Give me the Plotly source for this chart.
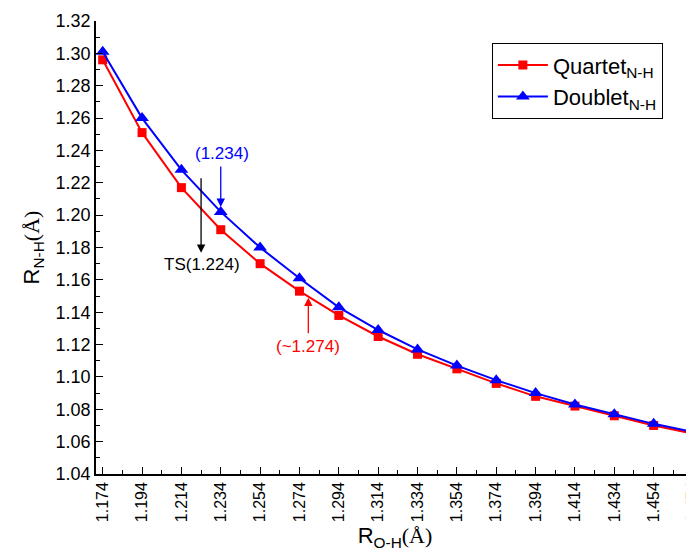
import plotly.graph_objects as go

r_oh = [1.174, 1.194, 1.214, 1.234, 1.254, 1.274, 1.294, 1.314, 1.334, 1.354,
        1.374, 1.394, 1.414, 1.434, 1.454, 1.474]
quartet = [1.296, 1.251, 1.217, 1.191, 1.170, 1.153, 1.138, 1.125, 1.114, 1.105,
           1.096, 1.088, 1.082, 1.076, 1.070, 1.065]
doublet = [1.301, 1.260, 1.228, 1.202, 1.180, 1.161, 1.143, 1.129, 1.117, 1.107,
           1.098, 1.090, 1.083, 1.077, 1.071, 1.066]
x_ticks = r_oh
x_ticklabels = ["%.3f" % v for v in r_oh]
y_ticks = [1.04, 1.06, 1.08, 1.10, 1.12, 1.14, 1.16, 1.18, 1.20, 1.22, 1.24, 1.26, 1.28, 1.30, 1.32]

fig = go.Figure()
fig.add_trace(go.Scatter(x=r_oh, y=quartet, mode="lines+markers",
                         name="Quartet<sub>N-H</sub>",
                         line=dict(color="#FF0000", width=2),
                         marker=dict(symbol="square", size=9, color="#FF0000"),
                         cliponaxis=False))
fig.add_trace(go.Scatter(x=r_oh, y=doublet, mode="lines+markers",
                         name="Doublet<sub>N-H</sub>",
                         line=dict(color="#0000FF", width=2),
                         marker=dict(symbol="triangle-up", size=12, color="#0000FF"),
                         cliponaxis=False))

# arrows
arrows = [
    (1.224, 1.2238, 1.224, 1.1767, "black"),
    (1.234, 1.2310, 1.234, 1.2050, "#0000FF"),
    (1.2785, 1.1261, 1.2785, 1.1490, "#FF0000"),
]
for x0, y0, x1, y1, c in arrows:
    fig.add_annotation(x=x1, y=y1, ax=x0, ay=y0, xref="x", yref="y", axref="x", ayref="y",
                       text="", showarrow=True, arrowhead=2, arrowsize=1.3, arrowwidth=1.3,
                       arrowcolor=c)

labels = [
    (1.2346, 1.2378, "(1.234)", "#0000FF"),
    (1.2246, 1.1694, "TS(1.224)", "black"),
    (1.2785, 1.1188, "(~1.274)", "#FF0000"),
]
for x, y, t, c in labels:
    fig.add_annotation(x=x, y=y, xref="x", yref="y", text=t, showarrow=False,
                       font=dict(family="Arial, Liberation Sans", size=17, color=c))

fig.update_layout(
    width=686, height=543,
    margin=dict(l=88, r=0, t=13, b=77),
    plot_bgcolor="white", paper_bgcolor="white",
    font=dict(family="Arial, Liberation Sans", color="black"),
    showlegend=True,
    legend=dict(x=0.662, y=0.951, xanchor="left", yanchor="top",
                bgcolor="white", bordercolor="black", borderwidth=1,
                font=dict(size=22, family="Arial, Liberation Sans"),
                tracegroupgap=0, itemwidth=50),
)
fig.update_xaxes(
    range=[1.1706, 1.4745], tickvals=x_ticks, ticktext=x_ticklabels, tickangle=-90,
    automargin=False, ticklabeloverflow="allow",
    showline=True, linecolor="black", linewidth=1.5, mirror=False,
    ticks="inside", ticklen=7, tickwidth=1.3, tickcolor="black",
    minor=dict(tick0=1.164, dtick=0.02, ticks="inside", ticklen=4, tickcolor="black", tickwidth=1.2),
    showgrid=False, zeroline=False,
    tickfont=dict(size=16, family="Arial, Liberation Sans"),
    title=dict(text="R<sub>O-H</sub><span style='font-family:Liberation Serif'>(Å)</span>",
               font=dict(size=22), standoff=12),
)
fig.update_yaxes(
    range=[1.04, 1.32], tickvals=y_ticks, tickformat=".2f",
    automargin=False, ticklabeloverflow="allow",
    showline=True, linecolor="black", linewidth=1.5, mirror=False,
    ticks="inside", ticklen=7, tickwidth=1.3, tickcolor="black",
    minor=dict(tick0=1.05, dtick=0.02, ticks="inside", ticklen=4, tickcolor="black", tickwidth=1.2),
    showgrid=False, zeroline=False,
    tickfont=dict(size=18, family="Arial, Liberation Sans"),
    title=dict(text="R<sub>N-H</sub><span style='font-family:Liberation Serif'>(Å)</span>",
               font=dict(size=22), standoff=10),
)

fig.write_html("out.html")
